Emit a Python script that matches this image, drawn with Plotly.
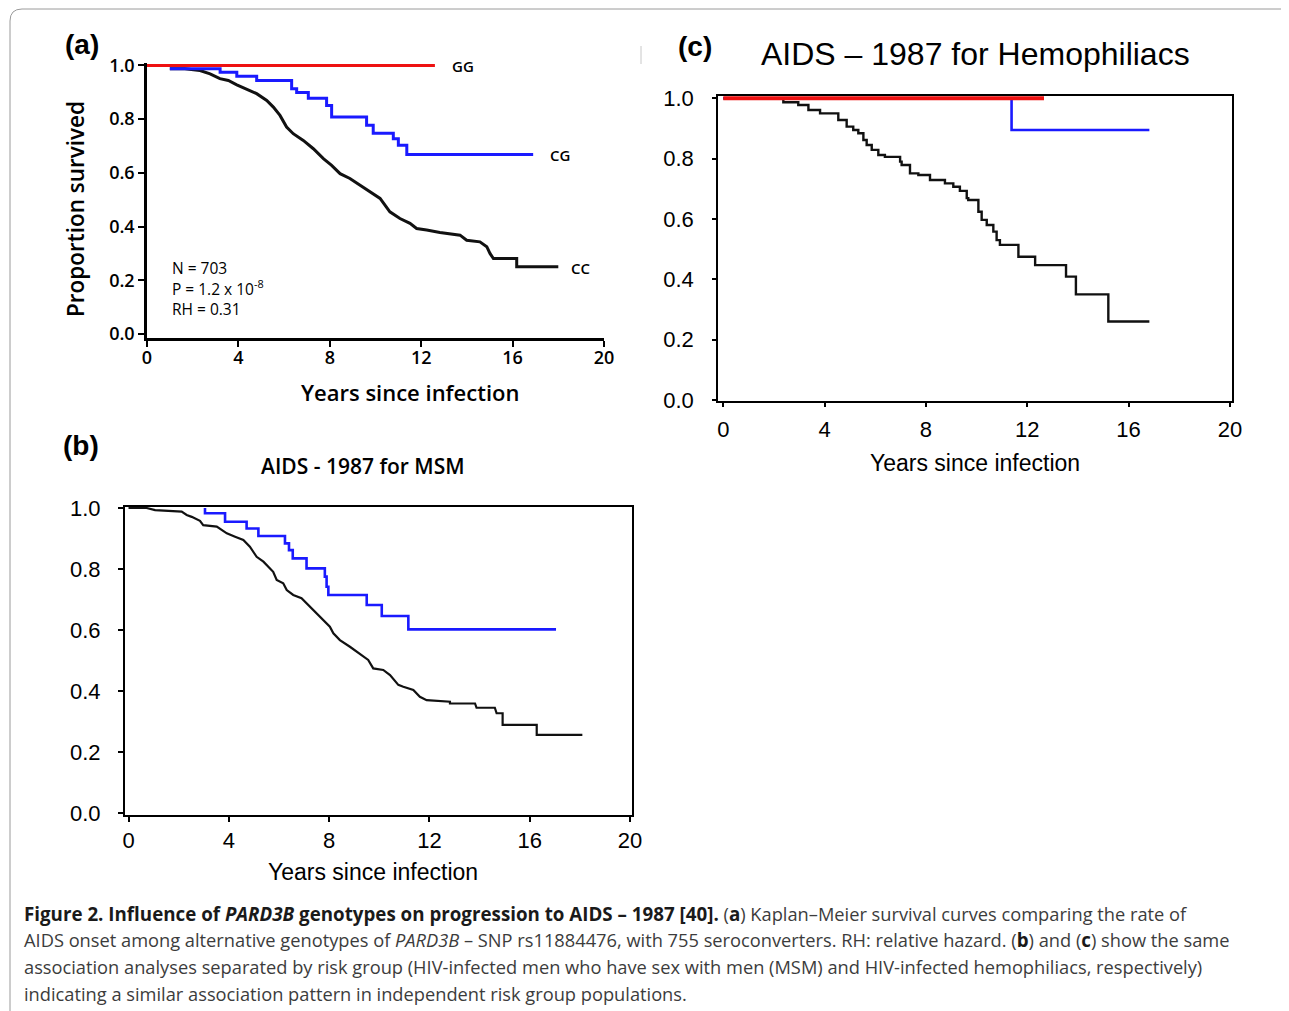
import plotly.graph_objects as go

# page body has an 8px margin; the figure is sized so that it ends at the window edge
OFF = 8
W, H = 1289 - OFF, 1011 - OFF

# ---------------- data ----------------
# Panel (a): all subjects
a_gg_x = [0, 12.6]
a_gg_y = [1.0, 1.0]
a_cg_x = [1.0, 3.2, 3.93, 4.8, 6.33, 6.55, 7.06, 7.86, 8.08, 9.61, 9.9, 10.78, 11.0, 11.37, 16.9]
a_cg_y = [0.988, 0.975, 0.960, 0.944, 0.913, 0.899, 0.878, 0.851, 0.808, 0.777, 0.748, 0.727, 0.703, 0.668, 0.668]
a_cc_x = [1.0, 1.66, 2.32, 2.76, 3.19, 3.56, 3.93, 4.36, 4.8, 5.24, 5.53, 5.82, 6.11, 6.40, 6.84, 7.28,
          7.72, 8.08, 8.45, 8.88, 9.32, 9.76, 10.2, 10.63, 11.07, 11.51, 11.8, 12.24, 12.82, 13.7, 13.99,
          14.57, 14.87, 15.01, 15.16, 16.18, 16.18, 18.0]
a_cc_y = [0.988, 0.988, 0.981, 0.969, 0.951, 0.944, 0.928, 0.913, 0.895, 0.870, 0.845, 0.814, 0.771, 0.746,
          0.721, 0.690, 0.653, 0.628, 0.597, 0.579, 0.554, 0.529, 0.505, 0.455, 0.430, 0.412, 0.393, 0.387,
          0.378, 0.368, 0.349, 0.343, 0.325, 0.300, 0.281, 0.281, 0.250, 0.250]

# Panel (b): MSM
b_cg_x = [3.05, 3.05, 3.85, 4.71, 5.18, 6.24, 6.4, 6.55, 7.1, 7.83, 7.9, 7.97, 9.5, 10.1, 11.16, 17.05]
b_cg_y = [1.0, 0.983, 0.955, 0.933, 0.908, 0.884, 0.862, 0.835, 0.802, 0.775, 0.742, 0.715, 0.682, 0.646, 0.602, 0.602]
b_cc_x = [0.0, 0.72, 1.06, 2.12, 2.32, 2.52, 2.85, 2.98, 3.52, 3.92, 4.25, 4.58, 4.84, 5.11, 5.38, 5.57, 5.77,
          5.91, 6.17, 6.31, 6.57, 6.9, 7.17, 7.5, 7.77, 8.03, 8.17, 8.43, 8.83, 9.1, 9.36, 9.56, 9.76,
          10.16, 10.43, 10.76, 10.96, 11.36, 11.62, 11.89, 12.82, 12.82, 13.82, 13.88, 14.61, 14.68, 14.92,
          14.92, 16.28, 16.28, 18.1]
b_cc_y = [1.0, 1.0, 0.993, 0.988, 0.977, 0.971, 0.958, 0.944, 0.939, 0.917, 0.906, 0.895, 0.873, 0.840, 0.824,
          0.808, 0.791, 0.764, 0.753, 0.731, 0.715, 0.704, 0.682, 0.655, 0.633, 0.611, 0.589, 0.567, 0.545,
          0.529, 0.512, 0.502, 0.474, 0.469, 0.452, 0.420, 0.414, 0.403, 0.381, 0.370, 0.365, 0.359, 0.359,
          0.345, 0.345, 0.327, 0.327, 0.289, 0.289, 0.256, 0.256]

# Panel (c): hemophiliacs
c_gg_x = [0, 12.66]
c_gg_y = [1.0, 1.0]
c_cg_x = [0, 11.38, 16.82]
c_cg_y = [1.0, 0.895, 0.895]
c_cc_x = [0, 2.37, 2.96, 3.36, 3.82, 4.54, 4.87, 5.13, 5.33, 5.53, 5.66, 5.86, 6.12, 6.38, 6.98, 7.04, 7.37,
          7.7, 8.16, 8.75, 9.08, 9.34, 9.61, 9.67, 10.07, 10.2, 10.4, 10.66, 10.79, 10.92, 11.65, 12.31,
          13.53, 13.92, 15.2, 16.82]
c_cc_y = [1.0, 0.987, 0.978, 0.961, 0.950, 0.928, 0.906, 0.895, 0.884, 0.862, 0.845, 0.829, 0.812, 0.806,
          0.790, 0.779, 0.751, 0.746, 0.729, 0.718, 0.707, 0.693, 0.669, 0.663, 0.624, 0.597, 0.580, 0.558,
          0.530, 0.514, 0.475, 0.447, 0.409, 0.350, 0.260, 0.260]

x_ticks = [0, 4, 8, 12, 16, 20]
y_ticks = [0.0, 0.2, 0.4, 0.6, 0.8, 1.0]
y_ticktext = ["0.0", "0.2", "0.4", "0.6", "0.8", "1.0"]

BLACK = "#111111"
BLUE = "#1a1aff"
RED = "#ee1111"


def px(x):
    return (x - OFF) / W


def py(y):
    return 1 - (y - OFF) / H


fig = go.Figure()

# ---- panel (a)
fig.add_trace(go.Scatter(x=a_cc_x, y=a_cc_y, mode="lines", line=dict(color=BLACK, width=3), xaxis="x", yaxis="y"))
fig.add_trace(go.Scatter(x=a_cg_x, y=a_cg_y, mode="lines", line=dict(color=BLUE, width=3, shape="hv"), xaxis="x", yaxis="y"))
fig.add_trace(go.Scatter(x=a_gg_x, y=a_gg_y, mode="lines", line=dict(color=RED, width=3), xaxis="x", yaxis="y"))
# ---- panel (b)
fig.add_trace(go.Scatter(x=b_cc_x, y=b_cc_y, mode="lines", line=dict(color=BLACK, width=2.2), xaxis="x2", yaxis="y2"))
fig.add_trace(go.Scatter(x=b_cg_x, y=b_cg_y, mode="lines", line=dict(color=BLUE, width=2.6, shape="hv"), xaxis="x2", yaxis="y2"))
# ---- panel (c)
fig.add_trace(go.Scatter(x=c_cc_x, y=c_cc_y, mode="lines", line=dict(color=BLACK, width=2.4, shape="hv"), xaxis="x3", yaxis="y3"))
fig.add_trace(go.Scatter(x=c_cg_x, y=c_cg_y, mode="lines", line=dict(color=BLUE, width=2.6, shape="hv"), xaxis="x3", yaxis="y3"))
fig.add_trace(go.Scatter(x=c_gg_x, y=c_gg_y, mode="lines", line=dict(color=RED, width=4), xaxis="x3", yaxis="y3"))

MYR = "Open Sans"
ARI = "Liberation Sans"

axis_common = dict(showgrid=False, zeroline=False, showline=True, linecolor="black", ticks="outside",
                   tickcolor="black", fixedrange=True, automargin=False)

fig.update_layout(
    template="none",
    width=W, height=H, margin=dict(l=0, r=0, t=0, b=0, pad=0, autoexpand=False),
    paper_bgcolor="white", plot_bgcolor="rgba(0,0,0,0)", showlegend=False,
    xaxis=dict(axis_common, domain=[px(147), px(604)], range=[0, 20], tickvals=x_ticks,
               linewidth=2.5, tickwidth=2, ticklen=6, anchor="y", ticklabelstandoff=-4,
               tickfont=dict(family=MYR, size=18, color="black", weight=600)),
    yaxis=dict(axis_common, domain=[py(338), py(62.8)], range=[-0.015, 1.01], tickvals=y_ticks, ticktext=y_ticktext,
               linewidth=2.5, tickwidth=2, ticklen=6, anchor="x",
               tickfont=dict(family=MYR, size=18, color="black", weight=600)),
    xaxis2=dict(axis_common, domain=[px(125), px(632)], range=[-0.14, 20.08], tickvals=x_ticks, mirror=True,
                linewidth=2, tickwidth=1.5, ticklen=5, anchor="y2", ticklabelstandoff=0,
                tickfont=dict(family=ARI, size=22, color="black")),
    yaxis2=dict(axis_common, domain=[py(815), py(507)], range=[-0.0066, 1.0033], tickvals=y_ticks, ticktext=y_ticktext,
                mirror=True, linewidth=2, tickwidth=1.5, ticklen=5, anchor="x2", ticklabelstandoff=13,
                tickfont=dict(family=ARI, size=22, color="black")),
    xaxis3=dict(axis_common, domain=[px(718.3), px(1231.7)], range=[-0.197, 20.07], tickvals=x_ticks, mirror=True,
                linewidth=2.2, tickwidth=1.5, ticklen=4, anchor="y3", ticklabelstandoff=3,
                tickfont=dict(family=ARI, size=22, color="black")),
    yaxis3=dict(axis_common, domain=[py(401), py(96)], range=[-0.0033, 1.0076], tickvals=y_ticks, ticktext=y_ticktext,
                mirror=True, linewidth=2.2, tickwidth=1.5, ticklen=4, anchor="x3", ticklabelstandoff=14,
                tickfont=dict(family=ARI, size=22, color="black")),
)

ann = []


def add_text(x, y, text, size, family, xanchor="center", yanchor="middle", color="black", weight="normal", angle=0):
    ann.append(dict(x=px(x), y=py(y), xref="paper", yref="paper", text=text, showarrow=False,
                    xanchor=xanchor, yanchor=yanchor, textangle=angle,
                    font=dict(size=size, family=family, color=color, weight=weight)))


# panel labels
add_text(82, 45, "(a)", 28, ARI, weight="bold")
add_text(81, 445, "(b)", 28, ARI, weight="bold")
add_text(695, 47, "(c)", 28, ARI, weight="bold")

# panel (a) texts
add_text(75, 209, "Proportion survived", 22.5, MYR, weight=600, angle=-90)
add_text(410, 392, "Years since infection", 22, MYR, weight=600)
add_text(450, 66, "GG", 15, MYR, xanchor="left", weight=600)
add_text(548, 155, "CG", 15, MYR, xanchor="left", weight=600)
add_text(569, 268, "CC", 15, MYR, xanchor="left", weight=600)
add_text(170, 268, "N = 703", 15.5, MYR, xanchor="left")
add_text(170, 288, "P = 1.2 x 10<sup>-8</sup>", 15.5, MYR, xanchor="left")
add_text(170, 309, "RH = 0.31", 15.5, MYR, xanchor="left")

# panel (b)
add_text(363, 466, "AIDS - 1987 for MSM", 21, MYR, weight=600)
add_text(373, 872, "Years since infection", 23, ARI)

# panel (c)
add_text(976, 54, "AIDS – 1987 for Hemophiliacs", 32, ARI)
add_text(975, 463, "Years since infection", 23, ARI)

# caption
cap_col = "#3c3c3c"
B = "<b><span style='color:#1a1a1a;font-size:18.75px'>{}</span></b>"
cap_lines = [
    B.format("Figure 2. Influence of <i>PARD3B</i> genotypes on progression to AIDS – 1987 [40].")
    + " (" + B.format("a") + ") Kaplan–Meier survival curves comparing the rate of",
    "AIDS onset among alternative genotypes of <i>PARD3B</i> – SNP rs11884476, with 755 seroconverters. RH: relative hazard."
    " (" + B.format("b") + ") and (" + B.format("c") + ") show the same",
    "association analyses separated by risk group (HIV-infected men who have sex with men (MSM) and HIV-infected hemophiliacs, respectively)",
    "indicating a similar association pattern in independent risk group populations.",
]
for i, line in enumerate(cap_lines):
    add_text(22, 913 + i * 26.7, line, 18.25, MYR, xanchor="left", color=cap_col)

fig.update_layout(annotations=ann)

# frame (rounded top-left corner) and small stray mark
fig.add_shape(type="path", xref="paper", yref="paper",
              path=f"M {px(1300)},{py(9)} L {px(22)},{py(9)} Q {px(10)},{py(9)} {px(10)},{py(21)} L {px(10)},{py(1020)}",
              line=dict(color="#9a9a9a", width=1))
fig.add_shape(type="line", xref="paper", yref="paper", x0=px(641), x1=px(641), y0=py(46), y1=py(64),
              line=dict(color="#c8c8c8", width=1))

fig.write_html("out.html")
